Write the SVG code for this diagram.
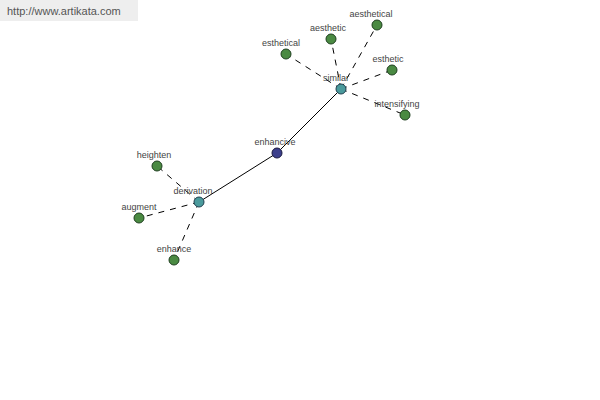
<svg xmlns="http://www.w3.org/2000/svg" width="600" height="400" viewBox="0 0 600 400">
<style>
.lbl{font-family:"Liberation Sans",Arial,sans-serif;font-size:9px;fill:#444;text-anchor:middle}
.leaf{fill:#4a8a42;stroke:#1f3f1f;stroke-width:1}
.hub{fill:#4a9a9c;stroke:#1f3f4f;stroke-width:1}
.root{fill:#3c3f8c;stroke:#1a1a40;stroke-width:1}
.dash{stroke:#000;stroke-width:1;stroke-dasharray:6 6;fill:none}
.solid{stroke:#000;stroke-width:1;fill:none}
</style>
<rect x="0" y="0" width="600" height="400" fill="#fff"/>
<g id="watermark">
<rect x="0" y="0" width="138" height="21" fill="#eeeeee"/>
<text x="7" y="15" style="font-family:'Liberation Sans',Arial,sans-serif;font-size:11px;fill:#555">http://www.artikata.com</text>
</g>
<g id="connectors">
<line class="solid" x1="277" y1="153" x2="341" y2="89"/>
<line class="solid" x1="277" y1="153" x2="199" y2="202"/>
<line class="dash" x1="341" y1="89" x2="377" y2="25"/>
<line class="dash" x1="341" y1="89" x2="331" y2="39"/>
<line class="dash" x1="341" y1="89" x2="286" y2="54"/>
<line class="dash" x1="341" y1="89" x2="392" y2="70"/>
<line class="dash" x1="341" y1="89" x2="405" y2="115"/>
<line class="dash" x1="199" y1="202" x2="157" y2="166"/>
<line class="dash" x1="199" y1="202" x2="139" y2="218"/>
<line class="dash" x1="199" y1="202" x2="174" y2="260"/>
</g>
<g id="enhancive"><circle class="root" cx="277" cy="153" r="5"/><text class="lbl" x="275" y="145">enhancive</text></g>
<g id="similar"><circle class="hub" cx="341" cy="89" r="5"/><text class="lbl" x="336" y="81">similar</text></g>
<g id="derivation"><circle class="hub" cx="199" cy="202" r="5"/><text class="lbl" x="193" y="194">derivation</text></g>
<g id="aesthetical"><circle class="leaf" cx="377" cy="25" r="5"/><text class="lbl" x="371" y="17">aesthetical</text></g>
<g id="aesthetic"><circle class="leaf" cx="331" cy="39" r="5"/><text class="lbl" x="328" y="31">aesthetic</text></g>
<g id="esthetical"><circle class="leaf" cx="286" cy="54" r="5"/><text class="lbl" x="281" y="46">esthetical</text></g>
<g id="esthetic"><circle class="leaf" cx="392" cy="70" r="5"/><text class="lbl" x="388" y="62">esthetic</text></g>
<g id="intensifying"><circle class="leaf" cx="405" cy="115" r="5"/><text class="lbl" x="397" y="107">intensifying</text></g>
<g id="heighten"><circle class="leaf" cx="157" cy="166" r="5"/><text class="lbl" x="154" y="158">heighten</text></g>
<g id="augment"><circle class="leaf" cx="139" cy="218" r="5"/><text class="lbl" x="139" y="210">augment</text></g>
<g id="enhance"><circle class="leaf" cx="174" cy="260" r="5"/><text class="lbl" x="174" y="252">enhance</text></g>
</svg>
